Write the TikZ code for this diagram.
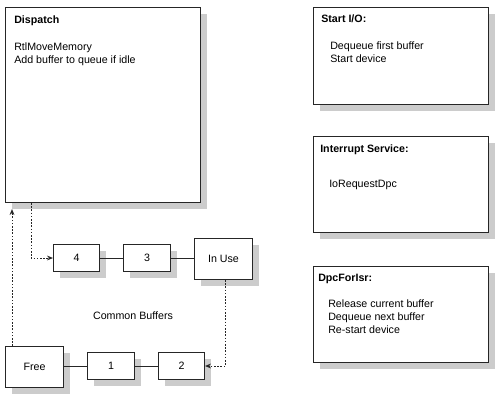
\documentclass[tikz,border=0pt]{standalone}
\usepackage{fontspec}
\setmainfont{Liberation Sans}
\usetikzlibrary{arrows.meta,shadows}
\begin{document}
\begin{tikzpicture}[x=0.75pt, y=-0.75pt,
  font=\fontsize{8}{9.75}\selectfont,
  procbox/.style={draw=\drvLineColor, line width=0.75pt, fill=white, anchor=north west, inner sep=0pt,
    drop shadow={shadow xshift=4.5pt, shadow yshift=-4.5pt, fill=\drvShadowColor, opacity=1}},
  boxtitle/.style={anchor=base west, inner sep=0pt, font=\fontsize{8}{9.75}\selectfont\bfseries},
  boxtext/.style={anchor=base west, inner sep=0pt},
  link/.style={draw=\drvLineColor, line width=0.75pt},
  flow/.style={draw=\drvLineColor, line width=0.75pt, dash pattern=on 1.2pt off 1.2pt,
    -{Stealth[length=4.5pt, width=3.6pt]}}]
\def\px{0.75pt}
\providecommand{\drvLineColor}{black!85}
\providecommand{\drvShadowColor}{black!20}
% Frame
\useasboundingbox (0,0) rectangle (500,400);
% Routine boxes
\node[procbox, minimum width=195*\px, minimum height=195*\px] (dispatch) at (5,7) {};
\node[procbox, minimum width=175*\px, minimum height=97*\px] (startio) at (313,7) {};
\node[procbox, minimum width=175*\px, minimum height=96*\px] (isr) at (313,136) {};
\node[procbox, minimum width=175*\px, minimum height=96*\px] (dpc) at (313,266) {};
% Routine texts
\node[boxtitle] (dispatch-t) at (14,23) {Dispatch};
\foreach \txt [count=\i] in {RtlMoveMemory, Add buffer to queue if idle}
  \node[boxtext] (dispatch-l\i) at (14,37+13*\i) {\txt};
\node[boxtitle] (startio-t) at (321,22.5) {Start I/O:};
\foreach \txt [count=\i] in {Dequeue first buffer, Start device}
  \node[boxtext] (startio-l\i) at (330,36.5+13*\i) {\txt};
\node[boxtitle] (isr-t) at (320,152) {Interrupt Service:};
\node[boxtext] (isr-l1) at (329,187.5) {IoRequestDpc};
\node[boxtitle] (dpc-t) at (318,281.5) {DpcForIsr:};
\foreach \txt [count=\i] in {Release current buffer, Dequeue next buffer, Re-start device}
  \node[boxtext] (dpc-l\i) at (328,294.5+13*\i) {\txt};
% Common buffers
\node[procbox, minimum width=46*\px, minimum height=27*\px] (buf4) at (53,244) {4};
\node[procbox, minimum width=47*\px, minimum height=27*\px] (buf3) at (123,244) {3};
\node[procbox, minimum width=58*\px, minimum height=41*\px] (inuse) at (194,238) {In Use};
\node[procbox, minimum width=58*\px, minimum height=41*\px] (free) at (5,346) {Free};
\node[procbox, minimum width=47*\px, minimum height=27*\px] (buf1) at (87,352) {1};
\node[procbox, minimum width=46*\px, minimum height=27*\px] (buf2) at (158,352) {2};
\node (pool) at (133,316) {Common Buffers};
% Queue links
\draw[link] (buf4.east) -- (buf3.west);
\draw[link] (buf3.east) -- (buf3.east -| inuse.west);
\draw[link] (free.east |- buf1.west) -- (buf1.west);
\draw[link] (buf1.east) -- (buf2.west);
% Buffer flow
\draw[flow] (dispatch.south west) ++(26,0) |- (buf4.west);
\draw[flow] (inuse.south) ++(2,0) |- (buf2.east);
\coordinate (freeout) at ([xshift=7*\px]free.north west);
\draw[flow, shorten >=4.5pt] (freeout) -- (freeout |- dispatch.south);
\end{tikzpicture}
\end{document}
